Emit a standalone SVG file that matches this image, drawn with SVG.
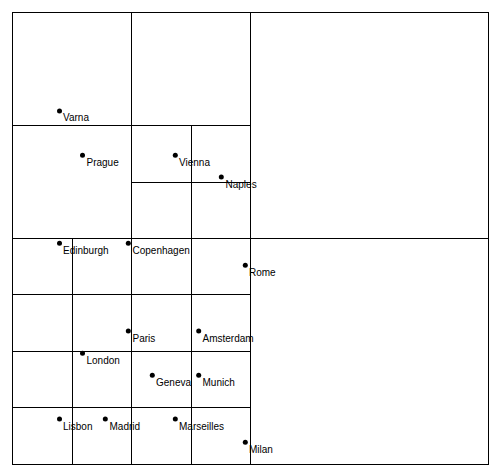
<svg xmlns="http://www.w3.org/2000/svg" width="501" height="475" viewBox="0 0 501 475">
<style>
.ln{stroke:#000;stroke-width:1;fill:none;shape-rendering:crispEdges}
.dot{fill:#000}
.lbl{font-family:"Liberation Sans",Arial,sans-serif;font-size:10px;fill:#000}
</style>
<rect width="501" height="475" fill="#fff"/>
<g id="nodes">
<g id="varna"><circle class="dot" cx="59.5" cy="111" r="2.5"/><text class="lbl" x="63" y="121">Varna</text></g>
<g id="prague"><circle class="dot" cx="82.5" cy="155.3" r="2.5"/><text class="lbl" x="86.5" y="165.5">Prague</text></g>
<g id="vienna"><circle class="dot" cx="175.3" cy="155.3" r="2.5"/><text class="lbl" x="179" y="165.5">Vienna</text></g>
<g id="naples"><circle class="dot" cx="221.3" cy="177" r="2.5"/><text class="lbl" x="225.5" y="187.5">Naples</text></g>
<g id="edinburgh"><circle class="dot" cx="59.5" cy="243.3" r="2.5"/><text class="lbl" x="63" y="254">Edinburgh</text></g>
<g id="copenhagen"><circle class="dot" cx="128.3" cy="243.3" r="2.5"/><text class="lbl" x="132.5" y="254">Copenhagen</text></g>
<g id="rome"><circle class="dot" cx="245.3" cy="265.3" r="2.5"/><text class="lbl" x="249" y="276">Rome</text></g>
<g id="paris"><circle class="dot" cx="128.3" cy="331" r="2.5"/><text class="lbl" x="132.5" y="341.7">Paris</text></g>
<g id="amsterdam"><circle class="dot" cx="198.7" cy="331" r="2.5"/><text class="lbl" x="202.5" y="341.7">Amsterdam</text></g>
<g id="london"><circle class="dot" cx="82.5" cy="353.3" r="2.5"/><text class="lbl" x="86.5" y="363.7">London</text></g>
<g id="geneva"><circle class="dot" cx="152.3" cy="375.3" r="2.5"/><text class="lbl" x="156" y="385.7">Geneva</text></g>
<g id="munich"><circle class="dot" cx="198.7" cy="375.3" r="2.5"/><text class="lbl" x="202.5" y="385.7">Munich</text></g>
<g id="lisbon"><circle class="dot" cx="59.5" cy="419" r="2.5"/><text class="lbl" x="63" y="429.5">Lisbon</text></g>
<g id="madrid"><circle class="dot" cx="105.3" cy="419" r="2.5"/><text class="lbl" x="109.5" y="429.5">Madrid</text></g>
<g id="marseilles"><circle class="dot" cx="175.3" cy="419" r="2.5"/><text class="lbl" x="179" y="429.5">Marseilles</text></g>
<g id="milan"><circle class="dot" cx="245.3" cy="442.3" r="2.5"/><text class="lbl" x="249" y="452.5">Milan</text></g>
</g>
<g id="grid">
<rect class="ln" x="12.5" y="12.5" width="476" height="452"/>
<line class="ln" x1="250.5" y1="12.5" x2="250.5" y2="464.5"/>
<line class="ln" x1="12.5" y1="238.5" x2="488.5" y2="238.5"/>
<line class="ln" x1="131.5" y1="12.5" x2="131.5" y2="464.5"/>
<line class="ln" x1="12.5" y1="125.5" x2="250.5" y2="125.5"/>
<line class="ln" x1="191.5" y1="125.5" x2="191.5" y2="464.5"/>
<line class="ln" x1="131.5" y1="182.5" x2="250.5" y2="182.5"/>
<line class="ln" x1="72.5" y1="238.5" x2="72.5" y2="464.5"/>
<line class="ln" x1="12.5" y1="294.5" x2="250.5" y2="294.5"/>
<line class="ln" x1="12.5" y1="351.5" x2="250.5" y2="351.5"/>
<line class="ln" x1="12.5" y1="407.5" x2="250.5" y2="407.5"/>
</g>
</svg>
